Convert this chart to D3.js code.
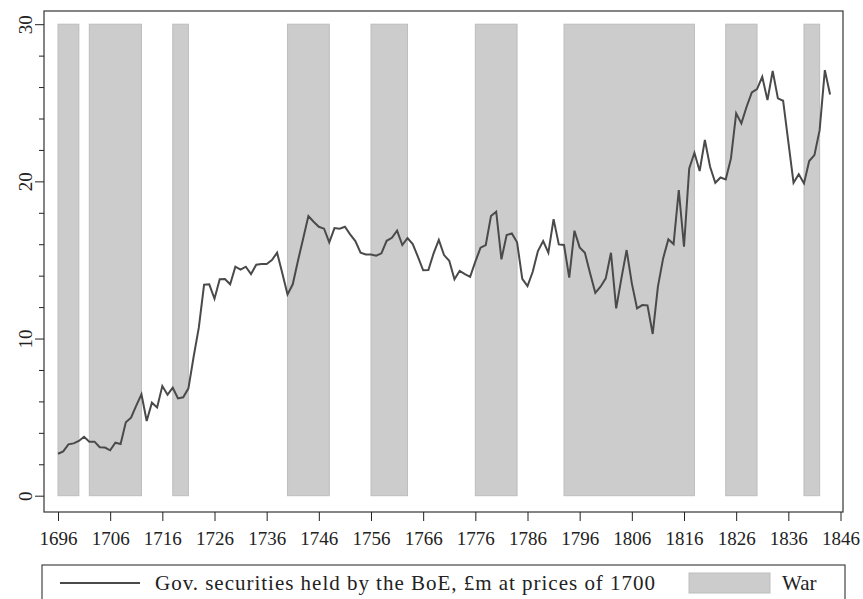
<!DOCTYPE html>
<html>
<head>
<meta charset="utf-8">
<script src="https://cdn.jsdelivr.net/npm/d3@7"></script>
<style>
  body { margin: 0; background: #fff; }
  text { font-family: "Liberation Serif", "DejaVu Serif", serif; fill: #222; }
</style>
</head>
<body>
<div id="chart"></div>
<script>
// gov. securities held by the BoE, £m at prices of 1700, one value per year from 1696
var firstYear = 1696;
var securities = [
  2.67, 2.82, 3.27, 3.33, 3.48, 3.75, 3.44, 3.44, 3.08, 3.06,
  2.89, 3.37, 3.29, 4.67, 4.96, 5.73, 6.45, 4.75, 5.92, 5.62,
  6.98, 6.43, 6.87, 6.19, 6.26, 6.83, 8.84, 10.71, 13.42, 13.45,
  12.53, 13.77, 13.79, 13.45, 14.57, 14.38, 14.57, 14.10, 14.70, 14.74,
  14.74, 14.99, 15.46, 14.15, 12.81, 13.45, 14.95, 16.37, 17.79, 17.43,
  17.11, 16.99, 16.12, 17.03, 16.99, 17.11, 16.63, 16.20, 15.46, 15.35,
  15.35, 15.27, 15.42, 16.22, 16.41, 16.86, 15.95, 16.39, 16.01, 15.20,
  14.34, 14.36, 15.42, 16.27, 15.31, 14.95, 13.77, 14.31, 14.10, 13.93,
  14.89, 15.78, 15.95, 17.79, 18.07, 15.04, 16.58, 16.69, 16.12, 13.80,
  13.34, 14.25, 15.57, 16.20, 15.46, 17.60, 15.99, 15.95, 13.87, 16.86,
  15.80, 15.46, 14.15, 12.91, 13.30, 13.83, 15.46, 11.92, 13.83, 15.63,
  13.51, 11.92, 12.13, 12.11, 10.29, 13.30, 15.10, 16.31, 16.01, 19.45,
  15.84, 20.83, 21.82, 20.66, 22.63, 20.93, 19.91, 20.25, 20.13, 21.46,
  24.33, 23.69, 24.75, 25.66, 25.87, 26.65, 25.17, 27.02, 25.28, 25.13,
  22.52, 19.91, 20.45, 19.87, 21.29, 21.67, 23.26, 27.08, 25.53
];

// war periods (start year, end year)
var wars = [
  [1696, 1700], [1702, 1712], [1718, 1721], [1740, 1748], [1756, 1763],
  [1776, 1784], [1793, 1818], [1824, 1830], [1839, 1842]
];

var xTicks = [1696, 1706, 1716, 1726, 1736, 1746, 1756, 1766, 1776, 1786, 1796, 1806, 1816, 1826, 1836, 1846];
var yTicks = [0, 10, 20, 30];
var yMinorTicks = [2, 4, 6, 8, 12, 14, 16, 18, 22, 24, 26, 28];

var lineLabel = "Gov. securities held by the BoE, £m at prices of 1700";
var warLabel = "War";

var width = 863, height = 599;
var frame = { left: 44, right: 843, top: 11, bottom: 512 };

var svg = d3.select("#chart")
    .append("svg")
    .attr("width", width)
    .attr("height", height);

var x = d3.scaleLinear()
    .domain([1696, 1846])
    .range([58, 840.5]);

var y = d3.scaleLinear()
    .domain([0, 30])
    .range([495.7, 24.2]);

var data = securities.map(function (v, i) {
    return { year: firstYear + i, value: v };
});

// war shading
svg.selectAll(".war")
    .data(wars)
    .enter().append("rect")
    .attr("class", "war")
    .attr("x", function (d) { return x(d[0]); })
    .attr("width", function (d) { return x(d[1]) - x(d[0]); })
    .attr("y", y(30))
    .attr("height", y(0) - y(30))
    .style("fill", "#cccccc")
    .style("stroke", "#bdbdbd")
    .style("stroke-width", 1);

// the series
var line = d3.line()
    .x(function (d) { return x(d.year); })
    .y(function (d) { return y(d.value); });

svg.append("path")
    .datum(data)
    .attr("d", line)
    .style("fill", "none")
    .style("stroke", "#4a4a4a")
    .style("stroke-width", 2)
    .style("stroke-linejoin", "miter");

// plot frame
svg.append("rect")
    .attr("x", frame.left)
    .attr("y", frame.top)
    .attr("width", frame.right - frame.left)
    .attr("height", frame.bottom - frame.top)
    .style("fill", "none")
    .style("stroke", "#444")
    .style("stroke-width", 1.3);

// x axis
var xAxis = svg.append("g")
    .attr("transform", "translate(0," + frame.bottom + ")")
    .call(d3.axisBottom(x).tickValues(xTicks).tickFormat(d3.format("d")).tickSize(9).tickPadding(11));
xAxis.select(".domain").remove();
xAxis.selectAll("line").style("stroke", "#222");
xAxis.selectAll("text")
    .style("font-size", "19px")
    .style("font-family", "Liberation Serif, serif")
    .style("fill", "#222");

// y axis: minor ticks then labelled ticks
var yMinor = svg.append("g")
    .attr("transform", "translate(" + frame.left + ",0)")
    .call(d3.axisLeft(y).tickValues(yMinorTicks).tickFormat("").tickSize(5));
yMinor.select(".domain").remove();
yMinor.selectAll("line").style("stroke", "#222");

var yAxis = svg.append("g")
    .attr("transform", "translate(" + frame.left + ",0)")
    .call(d3.axisLeft(y).tickValues(yTicks).tickSize(9));
yAxis.select(".domain").remove();
yAxis.selectAll("line").style("stroke", "#222");
yAxis.selectAll("text")
    .attr("x", null).attr("dy", null)
    .attr("text-anchor", "middle")
    .attr("transform", "translate(-19,0) rotate(-90) translate(0,6.5)")
    .style("font-size", "19px")
    .style("font-family", "Liberation Serif, serif")
    .style("fill", "#222");

// legend
var legend = svg.append("g");
legend.append("rect")
    .attr("x", 42).attr("y", 565)
    .attr("width", 803).attr("height", 40)
    .style("fill", "#fff")
    .style("stroke", "#444")
    .style("stroke-width", 1.2);
legend.append("line")
    .attr("x1", 60).attr("x2", 140)
    .attr("y1", 583).attr("y2", 583)
    .style("stroke", "#4a4a4a")
    .style("stroke-width", 2);
legend.append("text")
    .attr("x", 155).attr("y", 590)
    .attr("textLength", 500)
    .attr("lengthAdjust", "spacing")
    .style("font-size", "21px")
    .text(lineLabel);
legend.append("rect")
    .attr("x", 689).attr("y", 573)
    .attr("width", 81).attr("height", 20)
    .style("fill", "#cccccc")
    .style("stroke", "#bdbdbd")
    .style("stroke-width", 1);
legend.append("text")
    .attr("x", 782).attr("y", 590)
    .style("font-size", "21px")
    .text(warLabel);
</script>
</body>
</html>
